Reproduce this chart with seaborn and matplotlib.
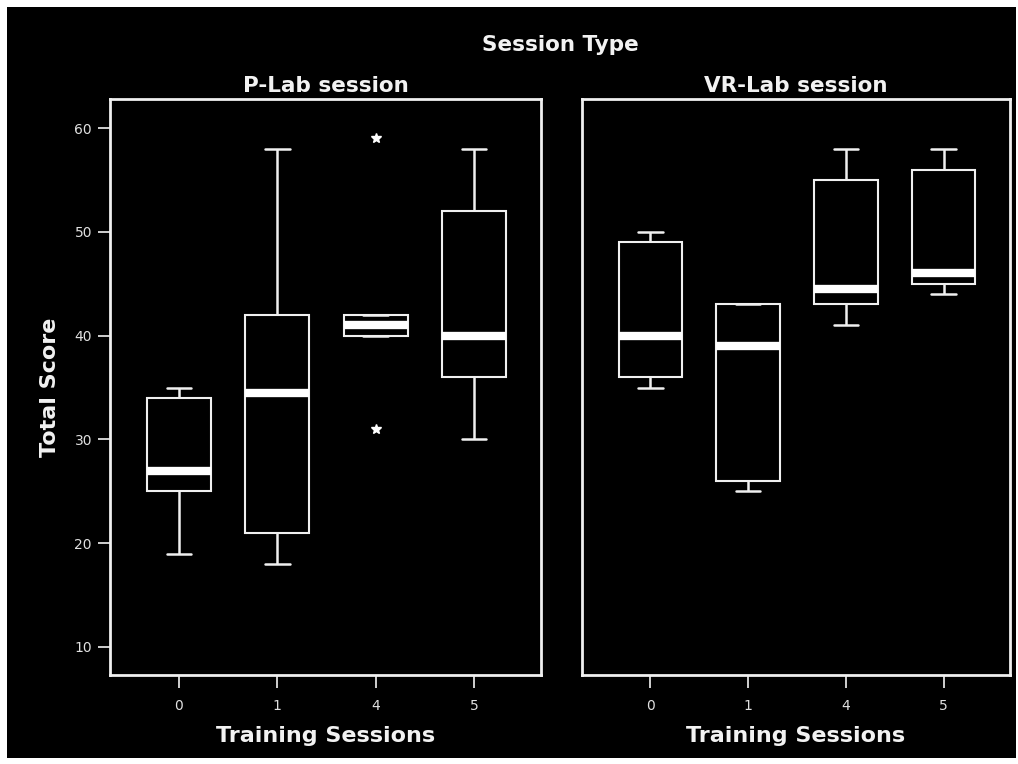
import matplotlib
matplotlib.use("Agg")
import matplotlib.pyplot as plt
from matplotlib.patches import Rectangle
import pandas as pd
import seaborn as sns

# valores (min, q1, mediana, q3, max; sessao 4 do P-Lab com 2 outliers)
sessoes = ["0", "1", "4", "5"]

plab_0 = [19, 25, 27, 34, 35]
plab_1 = [18, 21, 34.5, 42, 58]
plab_4 = [31, 40, 40, 41, 42, 42, 59]
plab_5 = [30, 36, 40, 52, 58]

vrlab_0 = [35, 36, 40, 49, 50]
vrlab_1 = [25, 26, 39, 43, 43]
vrlab_4 = [41, 43, 44.5, 55, 58]
vrlab_5 = [44, 45, 46, 56, 58]

tipos = ["P-Lab session", "VR-Lab session"]
grupos = {
    "P-Lab session": [plab_0, plab_1, plab_4, plab_5],
    "VR-Lab session": [vrlab_0, vrlab_1, vrlab_4, vrlab_5],
}

linhas = []
for tipo in tipos:
    for sessao, valores in zip(sessoes, grupos[tipo]):
        for v in valores:
            linhas.append({"Session Type": tipo, "Training Sessions": sessao, "Total Score": v})
dados = pd.DataFrame(linhas)

sns.set_style("dark")
plt.rcParams["font.family"] = ["DejaVu Sans"]

fig = plt.figure(figsize=(10.18, 7.64), dpi=100, facecolor="white")
fig.patches.append(Rectangle((7 / 1018, 6 / 764), 1009 / 1018, 751 / 764,
                             transform=fig.transFigure, facecolor="black",
                             edgecolor="none", zorder=-10))

posicoes = [
    [110 / 1018, 89 / 764, 431 / 1018, 576 / 764],
    [582 / 1018, 89 / 764, 428 / 1018, 576 / 764],
]

texto = "#f2f2f2"

for i, tipo in enumerate(tipos):
    ax = fig.add_axes(posicoes[i])
    ax.set_facecolor("black")

    sns.boxplot(
        data=dados[dados["Session Type"] == tipo],
        x="Training Sessions",
        y="Total Score",
        order=sessoes,
        color="black",
        linecolor="#f0f0f0",
        linewidth=1.5,
        width=0.65,
        whis=1.5,
        medianprops={"linewidth": 6, "color": "white", "solid_capstyle": "butt"},
        whiskerprops={"linewidth": 1.8},
        capprops={"linewidth": 1.8},
        flierprops={"marker": "*", "markersize": 7, "markerfacecolor": "white",
                    "markeredgecolor": "white"},
        capwidths=0.25,
        ax=ax,
    )

    ax.set_ylim(7.3, 62.8)
    ax.set_xlim(-0.7, 3.68)
    ax.set_yticks([10, 20, 30, 40, 50, 60])
    ax.grid(False)

    for lado in ax.spines.values():
        lado.set_visible(True)
        lado.set_color("#f0f0f0")
        lado.set_linewidth(2)

    ax.tick_params(axis="both", colors="#e0e0e0", labelsize=10, length=9,
                   width=1.3, direction="out", pad=8)
    ax.tick_params(axis="y", left=(i == 0), labelleft=(i == 0), pad=4)
    ax.tick_params(axis="x", bottom=True)

    ax.set_title(tipo, color=texto, fontsize=15.5, fontweight="bold", pad=5)
    ax.set_xlabel("Training Sessions", color=texto, fontsize=16, fontweight="bold",
                  labelpad=10)
    if i == 0:
        ax.set_ylabel("Total Score", color=texto, fontsize=16, fontweight="bold",
                      labelpad=10)
    else:
        ax.set_ylabel("")

fig.text(560 / 1018, 1 - 45 / 764, "Session Type", color=texto, fontsize=15.5,
         fontweight="bold", ha="center", va="center")

fig.savefig("out.png", dpi=100, facecolor="white")
plt.close(fig)
